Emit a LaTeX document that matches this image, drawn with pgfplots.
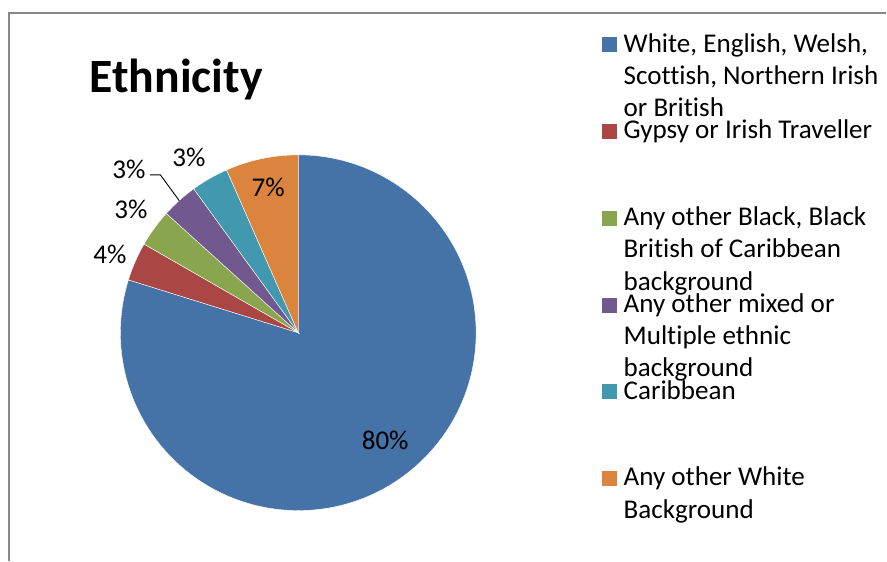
\documentclass[border=0pt]{standalone}
\usepackage{pgfplots}
\usepackage{pgfplotstable}
\pgfplotsset{compat=1.18}
\usepackage{fontspec}
\setmainfont[Ligatures=NoCommon]{Carlito}
\definecolor{cBlue}{HTML}{4572A7}
\definecolor{cRed}{HTML}{AA4643}
\definecolor{cGreen}{HTML}{89A54E}
\definecolor{cPurple}{HTML}{71588F}
\definecolor{cTeal}{HTML}{4198AF}
\definecolor{cOrange}{HTML}{DB843D}
\definecolor{frame}{HTML}{878787}

\pgfplotstableread{
share color
79.8 cBlue
3.5 cRed
3.4 cGreen
3.3 cPurple
3.4 cTeal
6.6 cOrange
}\piedata

\newcommand\lfont{\fontsize{27.1bp}{32.3bp}\selectfont}
\begin{document}
\begin{tikzpicture}
\begin{axis}[
  x=1bp, y=1bp, xmin=0, xmax=887, ymin=0, ymax=561,
  y dir=reverse, hide axis, clip=false, scale only axis,
  anchor=south west, at={(0,0)},
]
\path (axis cs:0,0) (axis cs:887,561);
% frame
\draw[frame, line width=1.5bp] (axis cs:9,561) -- (axis cs:9,13) -- (axis cs:887,13);
% title
\node[anchor=base west, font=\fontsize{47.8bp}{52bp}\selectfont\bfseries, inner sep=0pt] at (axis cs:89.5,92.5) {Ethnicity};
% pie slices
\pgfplotstablegetrowsof{\piedata}
\pgfmathtruncatemacro\nrows{\pgfplotsretval-1}
\def\cum{0}
\pgfplotsforeachungrouped \i in {0,...,\nrows}{%
  \pgfplotstablegetelem{\i}{share}\of\piedata \let\v\pgfplotsretval
  \pgfplotstablegetelem{\i}{color}\of\piedata \let\c\pgfplotsretval
  \pgfmathsetmacro\a{90-3.6*\cum}%
  \pgfmathsetmacro\b{90-3.6*(\cum+\v)}%
  \edef\temp{\noexpand\fill[\c, draw=white, line width=0.4bp] (axis cs:298.5,333) -- ++(\a:178bp) arc[start angle=\a, end angle=\b, radius=178bp] -- cycle;}%
  \temp
  \pgfmathsetmacro\cum{\cum+\v}%
}
% data labels
\begin{scope}[every node/.style={anchor=base, inner sep=0pt, font=\lfont}]
\node at (axis cs:385.5,450) {80\%};
\node at (axis cs:110,263.5) {4\%};
\node at (axis cs:131,218.5) {3\%};
\node at (axis cs:129,178.5) {3\%};
\node at (axis cs:189,166.5) {3\%};
\node at (axis cs:268.5,196.5) {7\%};
\end{scope}
\draw[black, line width=0.9bp] (axis cs:150,175) -- (axis cs:160.5,175) -- (axis cs:179.5,201);
% legend
\fill[cBlue]   (axis cs:603,37.5)  rectangle (axis cs:618,52.5);
\fill[cRed]    (axis cs:603,124.3) rectangle (axis cs:618,139.3);
\fill[cGreen]  (axis cs:603,211.1) rectangle (axis cs:618,226.1);
\fill[cPurple] (axis cs:603,297.9) rectangle (axis cs:618,312.9);
\fill[cTeal]   (axis cs:603,384.7) rectangle (axis cs:618,399.7);
\fill[cOrange] (axis cs:603,471.5) rectangle (axis cs:618,486.5);
\begin{scope}[every node/.style={anchor=base west, inner sep=0pt, font=\lfont}]
\node at (axis cs:624,52.3)  {White, English, Welsh,};
\node at (axis cs:624,84.6)  {Scottish, Northern Irish};
\node at (axis cs:624,116.9) {or British};
\node at (axis cs:624,139.1) {Gypsy or Irish Traveller};
\node at (axis cs:624,225.9) {Any other Black, Black};
\node at (axis cs:624,258.2) {British of Caribbean};
\node at (axis cs:624,290.5) {background};
\node at (axis cs:624,312.7) {Any other mixed or};
\node at (axis cs:624,345.0) {Multiple ethnic};
\node at (axis cs:624,377.3) {background};
\node at (axis cs:624,399.5) {Caribbean};
\node at (axis cs:624,486.3) {Any other White};
\node at (axis cs:624,518.6) {Background};
\end{scope}
\end{axis}
\end{tikzpicture}
\end{document}
